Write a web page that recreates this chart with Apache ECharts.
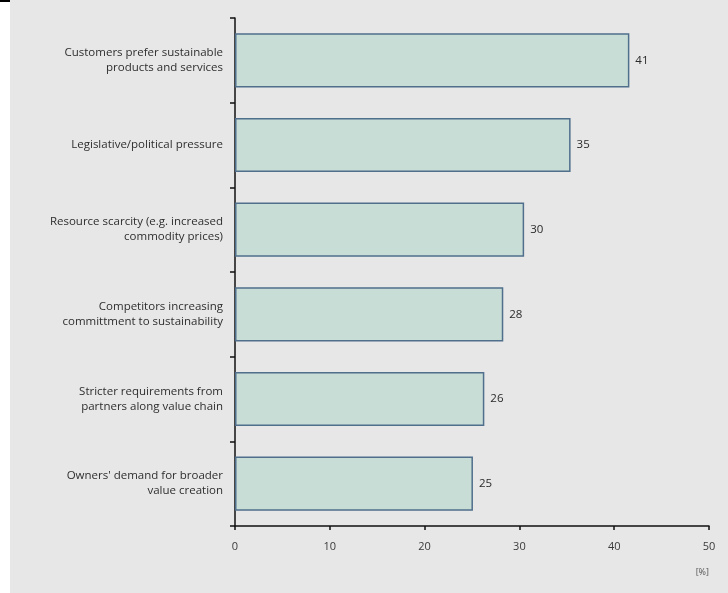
<!DOCTYPE html>
<html>
<head>
<meta charset="utf-8">
<script src="https://cdn.jsdelivr.net/npm/echarts@6/dist/echarts.min.js"></script>
<style>
html,body{margin:0;padding:0;background:#ffffff;}
#wrap{position:absolute;left:10px;top:0;width:718px;height:593px;background:#e7e7e7;}
#chart{width:718px;height:593px;}
#corner{position:absolute;left:0;top:0;width:10px;height:2px;background:#000;}
</style>
</head>
<body>
<div id="corner"></div>
<div id="wrap"><div id="chart"></div></div>
<script>
const categories = [
  "Customers prefer sustainable\nproducts and services",
  "Legislative/political pressure",
  "Resource scarcity (e.g. increased\ncommodity prices)",
  "Competitors increasing\ncommittment to sustainability",
  "Stricter requirements from\npartners along value chain",
  "Owners' demand for broader\nvalue creation"
];
// bar lengths; printed labels are the rounded figures
const values = [41.6, 35.4, 30.5, 28.3, 26.3, 25.1];
const valueLabels = ["41", "35", "30", "28", "26", "25"];
const xTicks = [0, 10, 20, 30, 40, 50];

const chart = echarts.init(document.getElementById('chart'));
chart.setOption({
  backgroundColor: 'transparent',
  animation: false,
  grid: { left: 225, right: 19, top: 18, bottom: 67, containLabel: false },
  xAxis: {
    type: 'value', min: xTicks[0], max: xTicks[xTicks.length-1], interval: 10,
    name: '[%]', nameLocation: 'end', nameGap: 0,
    nameTextStyle: { color: '#555', fontSize: 9, fontFamily: 'Open Sans', align: 'right', verticalAlign: 'top', padding: [42, 0, 0, 0] },
    axisLine: { show: true, lineStyle: { color: '#111', width: 1.5 } },
    axisTick: { show: true, length: 4, lineStyle: { color: '#111', width: 1.5 } },
    splitLine: { show: false },
    axisLabel: { color: '#3a3a3a', fontSize: 11, fontFamily: 'Open Sans', margin: 15 }
  },
  yAxis: {
    type: 'category', data: categories, inverse: true,
    axisLine: { show: true, lineStyle: { color: '#111', width: 1.5 } },
    axisTick: { show: true, length: 5, alignWithLabel: false, lineStyle: { color: '#111', width: 1.5 } },
    axisLabel: { color: '#2e2e2e', fontSize: 11.5, fontFamily: 'Open Sans', margin: 12, align: 'right', lineHeight: 15 }
  },
  series: [{
    type: 'bar', data: values, barCategoryGap: '36%',
    itemStyle: { color: '#c8ddd5', borderColor: '#4f6f8c', borderWidth: 1.5 },
    label: { show: true, position: 'right', distance: 6, color: '#2a2a2a', fontSize: 11.5, fontFamily: 'Open Sans',
      formatter: p => valueLabels[p.dataIndex] }
  }]
});
</script>
</body>
</html>
